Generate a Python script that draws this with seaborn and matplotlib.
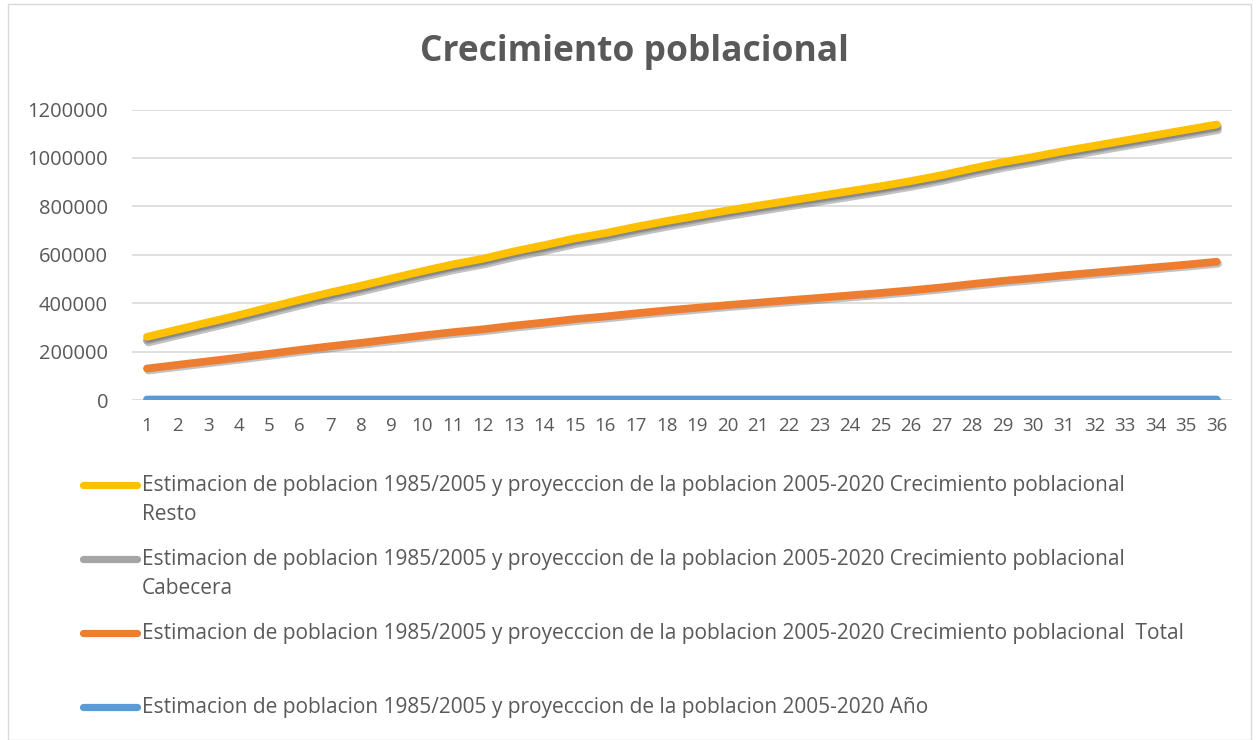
import numpy as np
import pandas as pd
import matplotlib
matplotlib.use("Agg")
import matplotlib.pyplot as plt
import matplotlib.patheffects as pe
from matplotlib.lines import Line2D
from matplotlib.patches import Rectangle
from matplotlib.ticker import FuncFormatter, MultipleLocator
import seaborn as sns

# ---------------- data ----------------
periodo = list(range(1, 37))
anio = [1985, 1986, 1987, 1988, 1989, 1990, 1991, 1992, 1993, 1994, 1995, 1996,
        1997, 1998, 1999, 2000, 2001, 2002, 2003, 2004, 2005, 2006, 2007, 2008,
        2009, 2010, 2011, 2012, 2013, 2014, 2015, 2016, 2017, 2018, 2019, 2020]
total = [128000, 143000, 158000, 173000, 189000, 205000, 220000, 234000, 249000,
         264000, 278000, 290000, 305000, 318000, 332000, 343000, 356000, 368000,
         379000, 390000, 400000, 410000, 420000, 430000, 440000, 451000, 463000,
         477000, 490000, 501000, 513000, 524000, 535000, 546000, 557000, 569000]
cabecera = [115600, 130500, 145400, 160300, 176200, 192100, 207000, 220900, 235900,
            250800, 264700, 276700, 291600, 304500, 318500, 329400, 342300, 354300,
            365200, 376100, 386100, 396000, 405900, 415900, 425800, 436700, 448700,
            462600, 475500, 486500, 498400, 509300, 520300, 531200, 542100, 552000]
resto = [15400, 15400, 15400, 15300, 15300, 15300, 15300, 15200, 15200, 15200,
         15200, 15200, 15100, 15100, 15100, 15100, 15100, 15000, 15000, 15000,
         15000, 15000, 15000, 15000, 15000, 14900, 14900, 14900, 14900, 14900,
         14900, 14800, 14800, 14800, 14800, 14800]

prefix = "Estimacion de poblacion 1985/2005 y proyecccion de la poblacion 2005-2020"
series_names = ["Año", "Total", "Cabecera", "Resto"]
legend_labels = {
    "Resto": [prefix + " Crecimiento poblacional", "Resto"],
    "Cabecera": [prefix + " Crecimiento poblacional", "Cabecera"],
    "Total": [prefix + " Crecimiento poblacional  Total"],
    "Año": [prefix + " Año"],
}
colors = {"Año": "#5B9BD5", "Total": "#ED7D31", "Cabecera": "#A5A5A5", "Resto": "#FFC000"}

# stacked line chart (as in the original)
raw = {"Año": anio, "Total": total, "Cabecera": cabecera, "Resto": resto}
stack = np.cumsum(np.array([raw[s] for s in series_names], dtype=float), axis=0)
rows = []
for i, s in enumerate(series_names):
    for p, v in zip(periodo, stack[i]):
        rows.append({"periodo": p, "valor": v, "serie": s})
df = pd.DataFrame(rows)

# ---------------- figure ----------------
sns.set_style("white")
plt.rcParams["font.family"] = ["Open Sans", "DejaVu Sans"]
W, H = 1259, 740
fig = plt.figure(figsize=(W / 100, H / 100), dpi=100)
fig.patch.set_facecolor("white")
ax = fig.add_axes([131.7 / W, 1 - 400 / H, (1232 - 131.7) / W, (400 - 109.5) / H])

txt = "#595959"
grid = "#D9D9D9"
lw = 5.6
for z, s in enumerate(series_names):
    sub = df[df["serie"] == s]
    sns.lineplot(data=sub, x="periodo", y="valor", ax=ax, color=colors[s],
                 linewidth=lw, zorder=3 + z, solid_capstyle="round",
                 path_effects=[pe.SimpleLineShadow(offset=(1.0, -1.4), shadow_color="#505050",
                                                   alpha=0.35, rho=0.6),
                               pe.Normal()])

ax.set_xlim(0.5, 36.5)
ax.set_ylim(0, 1200000)
ax.yaxis.set_major_locator(MultipleLocator(200000))
ax.yaxis.set_major_formatter(FuncFormatter(lambda v, p: f"{int(v)}"))
ax.set_xticks(periodo)
ax.set_xticklabels([str(p) for p in periodo])
ax.grid(axis="y", color=grid, linewidth=1.2, zorder=0)
ax.grid(axis="x", visible=False)
ax.set_axisbelow(True)
for sp in ax.spines.values():
    sp.set_visible(False)
ax.tick_params(axis="y", length=0, pad=17, labelsize=14.5, labelcolor=txt)
ax.tick_params(axis="x", length=0, pad=12, labelsize=13.5, labelcolor=txt)
ax.set_xlabel("")
ax.set_ylabel("")
if ax.get_legend() is not None:
    ax.get_legend().remove()

# title
fig.text(634 / W, 1 - 52 / H, "Crecimiento poblacional", ha="center", va="center",
         fontsize=25.5, fontweight="bold", color=txt)

# legend (drawn in figure coordinates, as in the original)
leg_order = ["Resto", "Cabecera", "Total", "Año"]
leg_y = [485, 559, 633, 707]
for s, y in zip(leg_order, leg_y):
    yf = 1 - y / H
    fig.add_artist(Line2D([83 / W, 137 / W], [yf, yf], transform=fig.transFigure,
                          color=colors[s], linewidth=5.2, solid_capstyle="round"))
    for k, line in enumerate(legend_labels[s]):
        fig.text(142 / W, 1 - (y + 30 * k) / H, line, ha="left", va="center",
                 fontsize=15, color=txt)

# chart border
fig.add_artist(Rectangle((8 / W, 0), (W - 16) / W, 1 - 4 / H, transform=fig.transFigure,
                         fill=False, edgecolor=grid, linewidth=1.0))

fig.savefig("out.png", dpi=100, facecolor="white")
